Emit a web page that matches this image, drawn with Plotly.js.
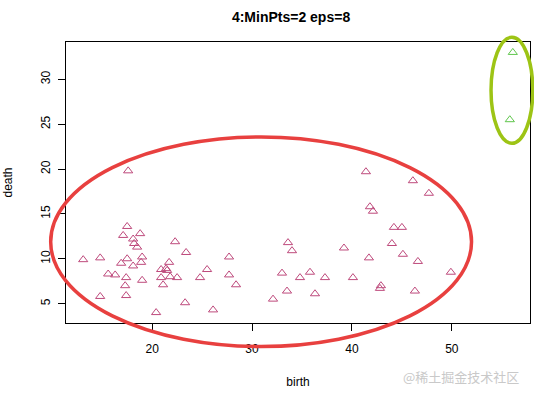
<!DOCTYPE html>
<html>
<head>
<meta charset="utf-8">
<script src="https://cdn.plot.ly/plotly-3.0.1.min.js"></script>
<style>html,body{margin:0;padding:0;background:#fff;}#chart{width:534px;height:395px;}</style>
</head>
<body>
<div id="chart"></div>
<script>
// Cluster 1 (red)
const birth1 = [17.6,17.5,17.1,18.8,18.1,18.2,18.5,13.1,14.8,16.9,17.5,19.0,18.9,18.1,15.6,16.3,17.4,17.3,19.0,14.8,17.4,20.4,
  20.9,21.4,21.5,21.7,20.9,21.1,21.8,22.5,22.3,23.4,25.5,24.8,23.3,26.1,27.7,27.7,28.4,
  33.6,34.0,33.0,33.5,32.1,34.8,35.8,36.3,37.3,39.2,40.1,
  41.4,46.1,47.7,41.8,42.1,44.2,45.0,44.0,41.7,45.1,46.6,42.9,42.8,46.3,49.9];
const death1 = [19.8,13.6,12.6,12.8,12.2,11.7,11.3,9.9,10.1,9.5,10.0,10.2,9.6,9.2,8.3,8.2,7.9,7.0,7.6,5.8,5.9,4.0,
  8.8,8.9,8.7,9.6,7.9,7.1,8.0,7.9,11.9,10.7,8.8,7.9,5.1,4.3,10.2,8.2,7.1,
  11.8,10.9,8.4,6.4,5.5,7.9,8.5,6.1,7.9,11.2,7.9,
  19.7,18.7,17.3,15.8,15.3,13.5,13.5,11.7,10.1,10.5,9.7,7.0,6.7,6.4,8.5];
// Cluster 2 (green)
const birth2 = [56.1, 55.8];
const death2 = [33.0, 25.5];

const titleText = "4:MinPts=2 eps=8";
const xTitle = "birth";
const yTitle = "death";
const xTicks = [20, 30, 40, 50];
const yTicks = [5, 10, 15, 20, 25, 30];

function rRange(a) {
  const mn = Math.min(...a), mx = Math.max(...a), s = mx - mn;
  return [mn - 0.04 * s, mx + 0.04 * s];
}
const allB = birth1.concat(birth2), allD = death1.concat(death2);

const mk = (c) => ({symbol: 'triangle-up-open', size: 8, color: c, line: {width: 1, color: c}});
const traces = [
  {x: birth1, y: death1, type: 'scatter', mode: 'markers', marker: mk('#BE4A7C'), hoverinfo: 'x+y'},
  {x: birth2, y: death2, type: 'scatter', mode: 'markers', marker: mk('#5FC64C'), hoverinfo: 'x+y'}
];

const font = 'Liberation Sans, Arial, sans-serif';
const layout = {
  width: 534, height: 395,
  margin: {l: 66, r: 4, t: 42, b: 72},
  paper_bgcolor: '#fff', plot_bgcolor: '#fff',
  showlegend: false,
  font: {family: font, size: 12, color: '#000'},
  title: {text: '<b>' + titleText + '</b>', x: 0.485, xref: 'paper', xanchor: 'center', y: 0.97, yref: 'container', font: {family: font, size: 14, color: '#000'}},
  xaxis: {
    range: rRange(allB), tickvals: xTicks, ticktext: xTicks.map(String),
    showgrid: false, zeroline: false, showline: true, mirror: true, linecolor: '#000', linewidth: 1,
    ticks: 'outside', ticklen: 7, tickcolor: '#000', ticklabelstandoff: 8,
    title: {text: xTitle, standoff: 22, font: {family: font, size: 12}}
  },
  yaxis: {
    range: rRange(allD), tickvals: yTicks, ticktext: yTicks.map(String), tickangle: -90,
    showgrid: false, zeroline: false, showline: true, mirror: true, linecolor: '#000', linewidth: 1,
    ticks: 'outside', ticklen: 7, tickcolor: '#000', ticklabelstandoff: 3,
    title: {text: yTitle, standoff: 24, font: {family: font, size: 12}}
  },
  shapes: [
    {type: 'circle', xref: 'paper', yref: 'paper', x0: -0.033, x1: 0.874, y0: -0.084, y1: 0.662,
     line: {color: '#E8403F', width: 3.5}, layer: 'above'},
    {type: 'circle', xref: 'paper', yref: 'paper', x0: 0.916, x1: 1.006, y0: 0.6395, y1: 1.017,
     line: {color: '#9DC415', width: 3.5}, layer: 'above'}
  ],
  annotations: [
    {text: '@稀土掘金技术社区', xref: 'paper', yref: 'paper', x: 0.98, y: -0.19, xanchor: 'right', yanchor: 'middle',
     showarrow: false, font: {family: 'Noto Sans CJK SC, sans-serif', size: 13, color: '#c9c9c9'}}
  ]
};
Plotly.newPlot('chart', traces, layout, {displayModeBar: false, staticPlot: true});
</script>
</body>
</html>
